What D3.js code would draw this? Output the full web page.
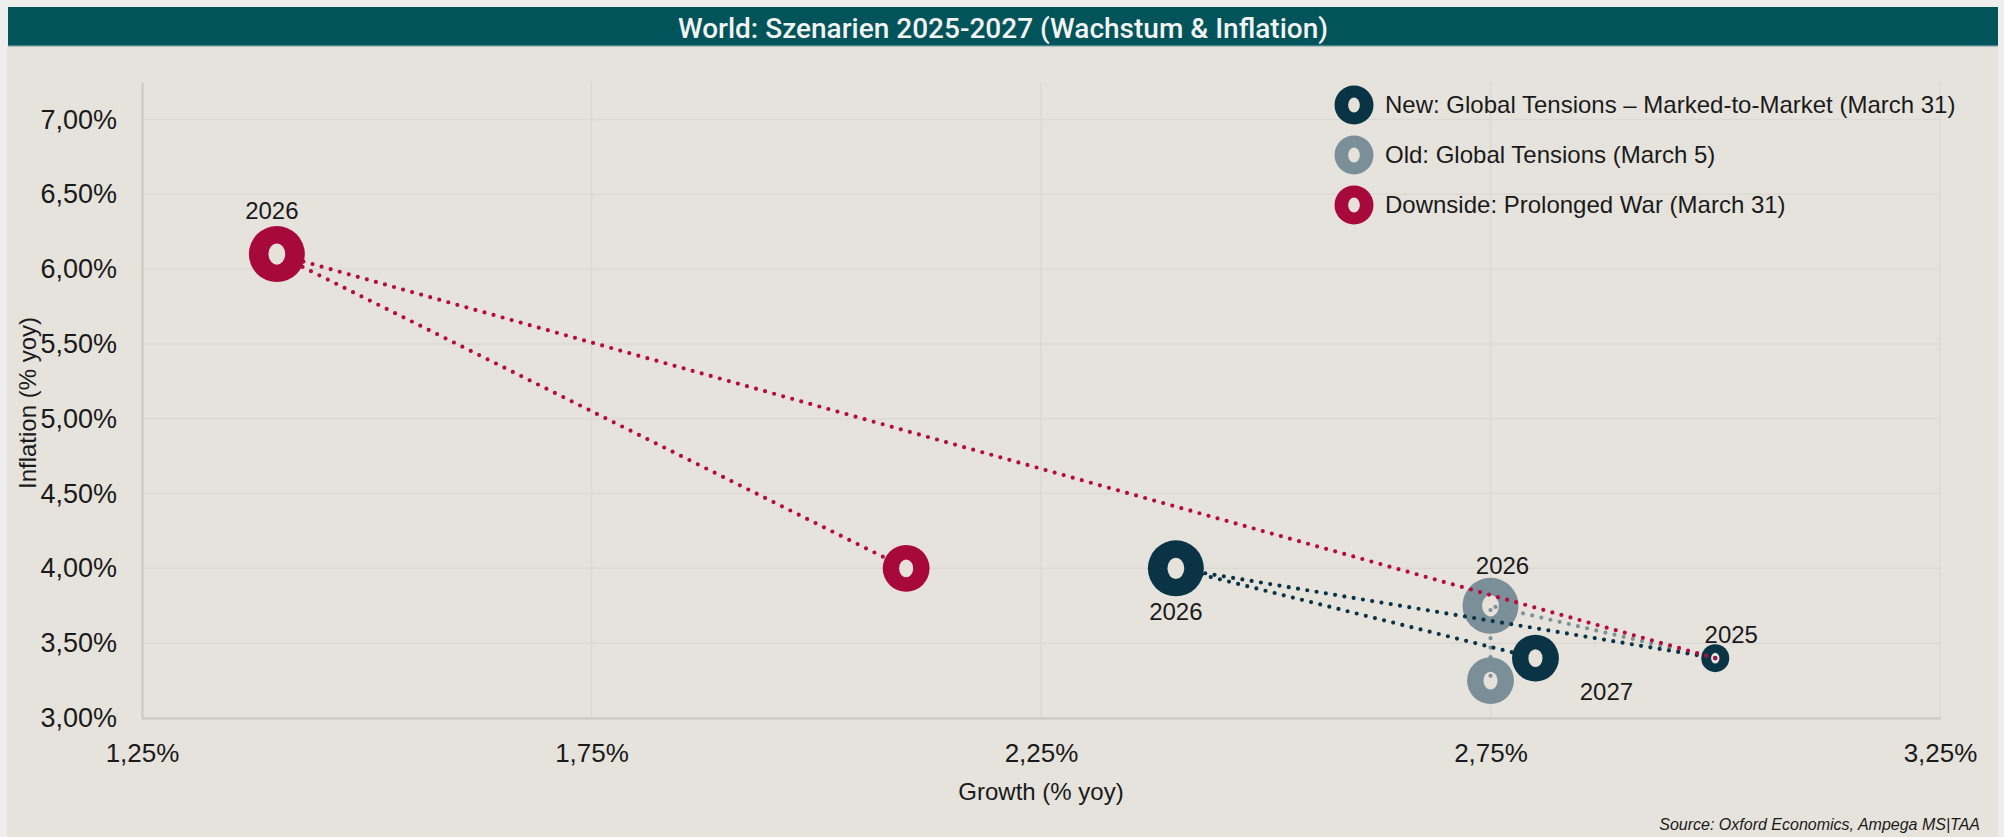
<!DOCTYPE html>
<html>
<head>
<meta charset="utf-8">
<script src="https://cdn.jsdelivr.net/npm/d3@7"></script>
<style>
  html, body { margin: 0; padding: 0; background: #eeeeee; }
  svg { display: block; }
</style>
</head>
<body>
<svg id="chart" width="2004" height="837"></svg>
<script>
// ---- data -------------------------------------------------------------
const years = ["2025", "2026", "2027"];
// relative bubble weight per year (2025 small, 2026 largest)
const bubbleWeight = [1, 4, 2.8];

const seriesKeys = ["new", "old", "down"];
const seriesNames = [
  "New: Global Tensions – Marked-to-Market (March 31)",
  "Old: Global Tensions (March 5)",
  "Downside: Prolonged War (March 31)"
];

// growth (% yoy) and inflation (% yoy) by year: 2025, 2026, 2027
const growthNew      = [3.00, 2.40, 2.80];
const inflationNew   = [3.40, 4.00, 3.40];
const growthOld      = [3.00, 2.75, 2.75];
const inflationOld   = [3.40, 3.75, 3.25];
const growthDown     = [3.00, 1.40, 2.10];
const inflationDown  = [3.40, 6.10, 4.00];

const xTicks = [1.25, 1.75, 2.25, 2.75, 3.25];
const yTicks = [3.0, 3.5, 4.0, 4.5, 5.0, 5.5, 6.0, 6.5, 7.0];

// which points carry a year label
const labelledPoints = [
  { series: "down", year: "2026" },
  { series: "new",  year: "2026" },
  { series: "old",  year: "2026" },
  { series: "new",  year: "2027" },
  { series: "new",  year: "2025" }
];

// ---- styling ----------------------------------------------------------
const colors = { new: "#0a3446", old: "#7b8f98", down: "#a8093d" };
const lineColors = { new: "#0a3446", old: "#7d9199", down: "#b40c42" };
const holeColor = "#e6e1d9";
const panelColor = "#e6e3dd";
const gridColor = "#dcd9d4";
const axisColor = "#c9c8c5";
const textColor = "#1a1a1a";

const valueSets = {
  new:  { g: growthNew,  i: inflationNew },
  old:  { g: growthOld,  i: inflationOld },
  down: { g: growthDown, i: inflationDown }
};

const series = seriesKeys.map((k, si) => ({
  key: k,
  name: seriesNames[si],
  points: years.map((y, yi) => ({
    series: k, year: y, yi,
    g: valueSets[k].g[yi],
    inf: valueSets[k].i[yi],
    w: bubbleWeight[yi]
  }))
}));
const byKey = Object.fromEntries(series.map(s => [s.key, s]));

// ---- layout -----------------------------------------------------------
const svg = d3.select("#chart");
const W = 2004, H = 837;
const plot = { left: 142, right: 1940, top: 82, bottom: 718 };

const x = d3.scaleLinear().domain([1.25, 3.25]).range([plot.left, plot.right]);
const y = d3.scaleLinear().domain([3.0, 7.25]).range([plot.bottom, plot.top]);
const r = d3.scaleSqrt().domain([0, 4]).range([0, 28]);

const fmt = v => d3.format(".2f")(v).replace(".", ",") + "%";

// background panel and title bar
svg.append("rect").attr("x", 0).attr("y", 0).attr("width", W).attr("height", H).attr("fill", "#eeeeee");
svg.append("rect").attr("x", 7).attr("y", 46).attr("width", 1991).attr("height", H - 46).attr("fill", panelColor);
svg.append("rect").attr("x", 8).attr("y", 7).attr("width", 1990).attr("height", 39).attr("fill", "#00545a");
svg.append("rect").attr("x", 8).attr("y", 45).attr("width", 1990).attr("height", 2).attr("fill", "#7fa6a5").attr("opacity", 0.6);

svg.append("text")
  .attr("x", 1003).attr("y", 38)
  .attr("text-anchor", "middle")
  .attr("font-family", "Roboto, 'Open Sans', sans-serif")
  .attr("font-weight", 500)
  .attr("font-size", 28)
  .attr("fill", "#f3f3f3")
  .text("World: Szenarien 2025-2027 (Wachstum & Inflation)");

// grid
const grid = svg.append("g");
grid.selectAll("line.h").data(yTicks).join("line")
  .attr("x1", plot.left).attr("x2", plot.right)
  .attr("y1", d => y(d)).attr("y2", d => y(d))
  .attr("stroke", gridColor).attr("stroke-width", 1.5);
grid.selectAll("line.v").data(xTicks.slice(1)).join("line")
  .attr("x1", d => x(d)).attr("x2", d => x(d))
  .attr("y1", plot.top).attr("y2", plot.bottom)
  .attr("stroke", gridColor).attr("stroke-width", 1.5);

// axes
const xAxis = d3.axisBottom(x).tickValues(xTicks).tickFormat(fmt).tickSize(0).tickPadding(26);
const yAxis = d3.axisLeft(y).tickValues(yTicks).tickFormat(fmt).tickSize(0).tickPadding(25);

const gx = svg.append("g").attr("transform", `translate(0,${plot.bottom})`).call(xAxis);
gx.select(".domain").attr("stroke", axisColor).attr("stroke-width", 2);
gx.selectAll("text")
  .attr("font-family", "'Liberation Sans', Arial, sans-serif")
  .attr("font-size", 26).attr("fill", textColor);

const gy = svg.append("g").attr("transform", `translate(${plot.left},0)`).call(yAxis);
gy.select(".domain").attr("stroke", axisColor).attr("stroke-width", 2);
gy.selectAll("text")
  .attr("font-family", "'Liberation Sans', Arial, sans-serif")
  .attr("font-size", 27).attr("fill", textColor);

// axis titles
svg.append("text")
  .attr("x", (plot.left + plot.right) / 2).attr("y", 800)
  .attr("text-anchor", "middle")
  .attr("font-family", "'Liberation Sans', Arial, sans-serif")
  .attr("font-size", 24).attr("fill", textColor)
  .text("Growth (% yoy)");
svg.append("text")
  .attr("transform", `translate(36,${(plot.top + plot.bottom) / 2 + 3}) rotate(-90)`)
  .attr("text-anchor", "middle")
  .attr("font-family", "'Liberation Sans', Arial, sans-serif")
  .attr("font-size", 24).attr("fill", textColor)
  .text("Inflation (% yoy)");

// source note
svg.append("text")
  .attr("x", 1980).attr("y", 830)
  .attr("text-anchor", "end")
  .attr("font-family", "'Liberation Sans', Arial, sans-serif")
  .attr("font-style", "italic")
  .attr("font-size", 16).attr("fill", textColor)
  .text("Source: Oxford Economics, Ampega MS|TAA");

// ring marker: filled disc with an upright oval hole
function ring(g, cx, cy, rad, color) {
  g.append("circle").attr("cx", cx).attr("cy", cy).attr("r", rad).attr("fill", color);
  g.append("ellipse").attr("cx", cx).attr("cy", cy)
    .attr("rx", rad * 0.3).attr("ry", rad * 0.38).attr("fill", holeColor);
}

const marks = svg.append("g");
const line = d3.line().x(d => x(d.g)).y(d => y(d.inf));

function drawLine(s) {
  marks.append("path")
    .datum(s.points)
    .attr("d", line)
    .attr("fill", "none")
    .attr("stroke", lineColors[s.key])
    .attr("stroke-width", 4.2)
    .attr("stroke-linecap", "round")
    .attr("stroke-dasharray", "0 9.4");
}
function drawBubbles(s, from) {
  s.points.slice(from).forEach(p => ring(marks, x(p.g), y(p.inf), r(p.w), colors[s.key]));
}

// shared 2025 starting point
const start = byKey.new.points[0];
ring(marks, x(start.g), y(start.inf), r(start.w), colors.new);

drawBubbles(byKey.old, 1);
drawLine(byKey.old);
drawLine(byKey.new);
drawLine(byKey.down);
drawBubbles(byKey.new, 1);
drawBubbles(byKey.down, 1);

// year labels
const labelOffset = {
  "down-2026": [-5, -35],
  "new-2026":  [0, 52],
  "old-2026":  [12, -32],
  "new-2027":  [71, 42],
  "new-2025":  [16, -15]
};
labelledPoints.forEach(lp => {
  const p = byKey[lp.series].points.find(q => q.year === lp.year);
  const off = labelOffset[lp.series + "-" + lp.year];
  svg.append("text")
    .attr("x", x(p.g) + off[0]).attr("y", y(p.inf) + off[1])
    .attr("text-anchor", "middle")
    .attr("font-family", "'Liberation Sans', Arial, sans-serif")
    .attr("font-size", 24).attr("fill", textColor)
    .text(p.year);
});

// legend
const legend = svg.append("g");
series.forEach((s, i) => {
  const ly = 105 + i * 50;
  ring(legend, 1354, ly, 19.5, colors[s.key]);
  legend.append("text")
    .attr("x", 1385).attr("y", ly).attr("dy", "0.35em")
    .attr("font-family", "'Liberation Sans', Arial, sans-serif")
    .attr("font-size", 24).attr("fill", textColor)
    .text(s.name);
});
</script>
</body>
</html>
